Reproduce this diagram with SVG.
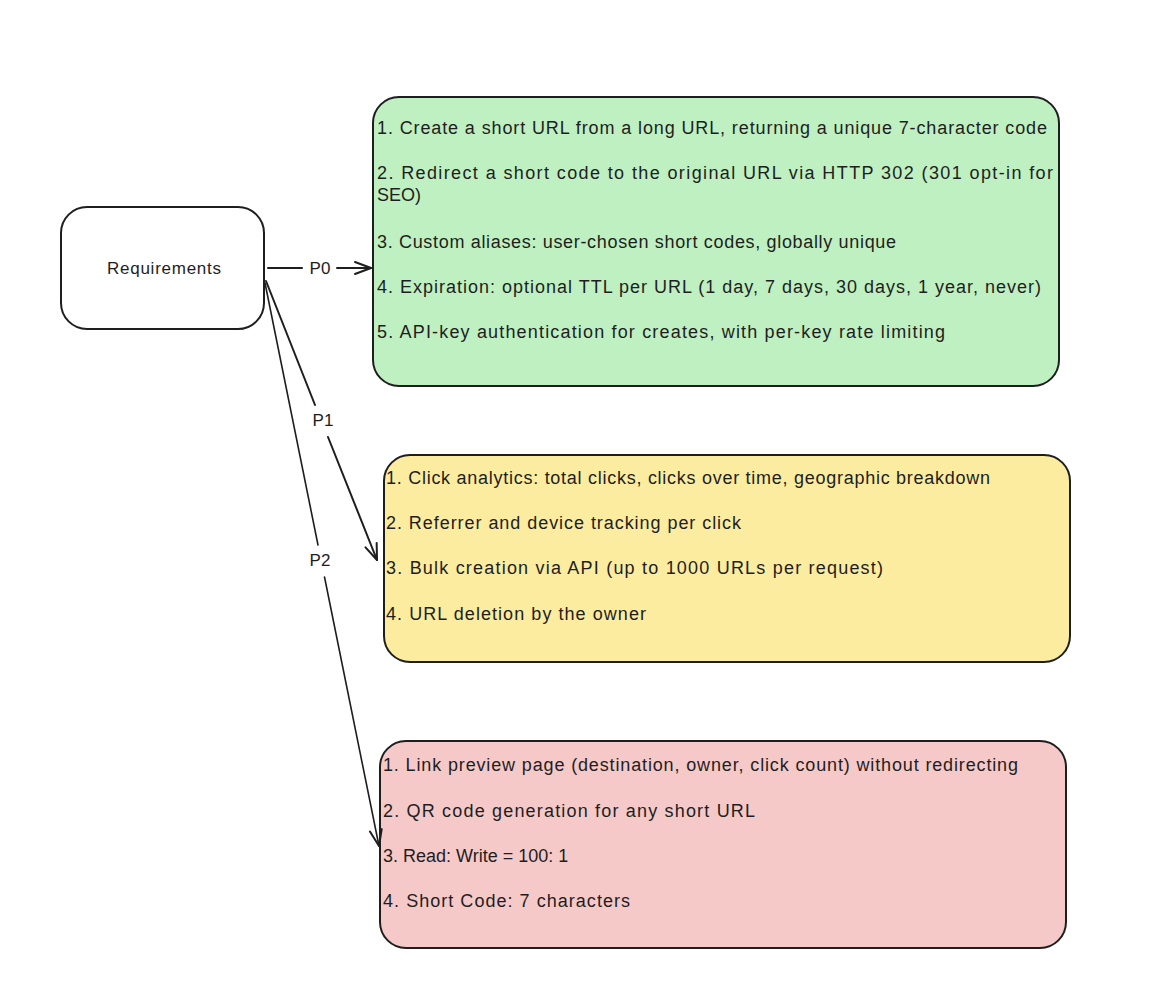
<svg xmlns="http://www.w3.org/2000/svg" width="1164" height="1004" viewBox="0 0 1164 1004">
<style>
.box{stroke:#1e1e1e;stroke-width:2}
.t{font-family:"Liberation Sans","DejaVu Sans",sans-serif;font-size:18px;fill:#1e1e1e}
.lbl{font-family:"Liberation Sans","DejaVu Sans",sans-serif;font-size:17px;fill:#1e1e1e;text-anchor:middle}
.c{stroke:#1e1e1e;stroke-width:2;fill:none;stroke-linecap:round}
</style>
<defs>
<marker id="ah" markerUnits="userSpaceOnUse" markerWidth="30" markerHeight="30" viewBox="-20 -15 30 30" refX="0" refY="0" orient="auto">
<path d="M -16 -6 L 0 0 L -16 6" fill="none" stroke="#1e1e1e" stroke-width="2" stroke-linecap="round" stroke-linejoin="round"/>
</marker>
</defs>
<rect width="1164" height="1004" fill="#ffffff"/>
<g id="requirements">
<rect class="box" x="61" y="207" width="203" height="122" rx="26" fill="#ffffff"/>
<text class="lbl" x="164" y="274" textLength="114" lengthAdjust="spacing">Requirements</text>
</g>
<g id="p0-box">
<rect class="box" x="373" y="97" width="686" height="289" rx="26" fill="#bff0c1"/>
<text class="t" x="377" y="134" textLength="670" lengthAdjust="spacing">1. Create a short URL from a long URL, returning a unique 7-character code</text>
<text class="t" x="377" y="179" textLength="676" lengthAdjust="spacing">2. Redirect a short code to the original URL via HTTP 302 (301 opt-in for</text>
<text class="t" x="377" y="201">SEO)</text>
<text class="t" x="377" y="248" textLength="519" lengthAdjust="spacing">3. Custom aliases: user-chosen short codes, globally unique</text>
<text class="t" x="377" y="293" textLength="664" lengthAdjust="spacing">4. Expiration: optional TTL per URL (1 day, 7 days, 30 days, 1 year, never)</text>
<text class="t" x="377" y="338" textLength="568" lengthAdjust="spacing">5. API-key authentication for creates, with per-key rate limiting</text>
</g>
<g id="p1-box">
<rect class="box" x="384" y="455" width="686" height="207" rx="26" fill="#fcec9f"/>
<text class="t" x="386" y="484" textLength="604" lengthAdjust="spacing">1. Click analytics: total clicks, clicks over time, geographic breakdown</text>
<text class="t" x="386" y="529" textLength="355" lengthAdjust="spacing">2. Referrer and device tracking per click</text>
<text class="t" x="386" y="574" textLength="497" lengthAdjust="spacing">3. Bulk creation via API (up to 1000 URLs per request)</text>
<text class="t" x="386" y="620" textLength="260" lengthAdjust="spacing">4. URL deletion by the owner</text>
</g>
<g id="p2-box">
<rect class="box" x="380" y="741" width="686" height="207" rx="26" fill="#f6c9c9"/>
<text class="t" x="383" y="771" textLength="635" lengthAdjust="spacing">1. Link preview page (destination, owner, click count) without redirecting</text>
<text class="t" x="383" y="817" textLength="372" lengthAdjust="spacing">2. QR code generation for any short URL</text>
<text class="t" x="383" y="862">3. Read: Write = 100: 1</text>
<text class="t" x="383" y="907" textLength="247" lengthAdjust="spacing">4. Short Code: 7 characters</text>
</g>
<g id="connectors">
<path class="c" d="M 268 268 L 302 268"/>
<path class="c" d="M 337 268 L 371 268" marker-end="url(#ah)"/>
<text class="lbl" x="320" y="274">P0</text>
<path class="c" d="M 266 281 L 315 405"/>
<path class="c" d="M 328 437 L 377 560" marker-end="url(#ah)"/>
<text class="lbl" x="323" y="426">P1</text>
<path class="c" d="M 265 283 L 318 545" style="stroke-width:1.6"/>
<path class="c" d="M 324.5 577 L 379 846" style="stroke-width:1.6" marker-end="url(#ah)"/>
<text class="lbl" x="320" y="566">P2</text>
</g>
</svg>
